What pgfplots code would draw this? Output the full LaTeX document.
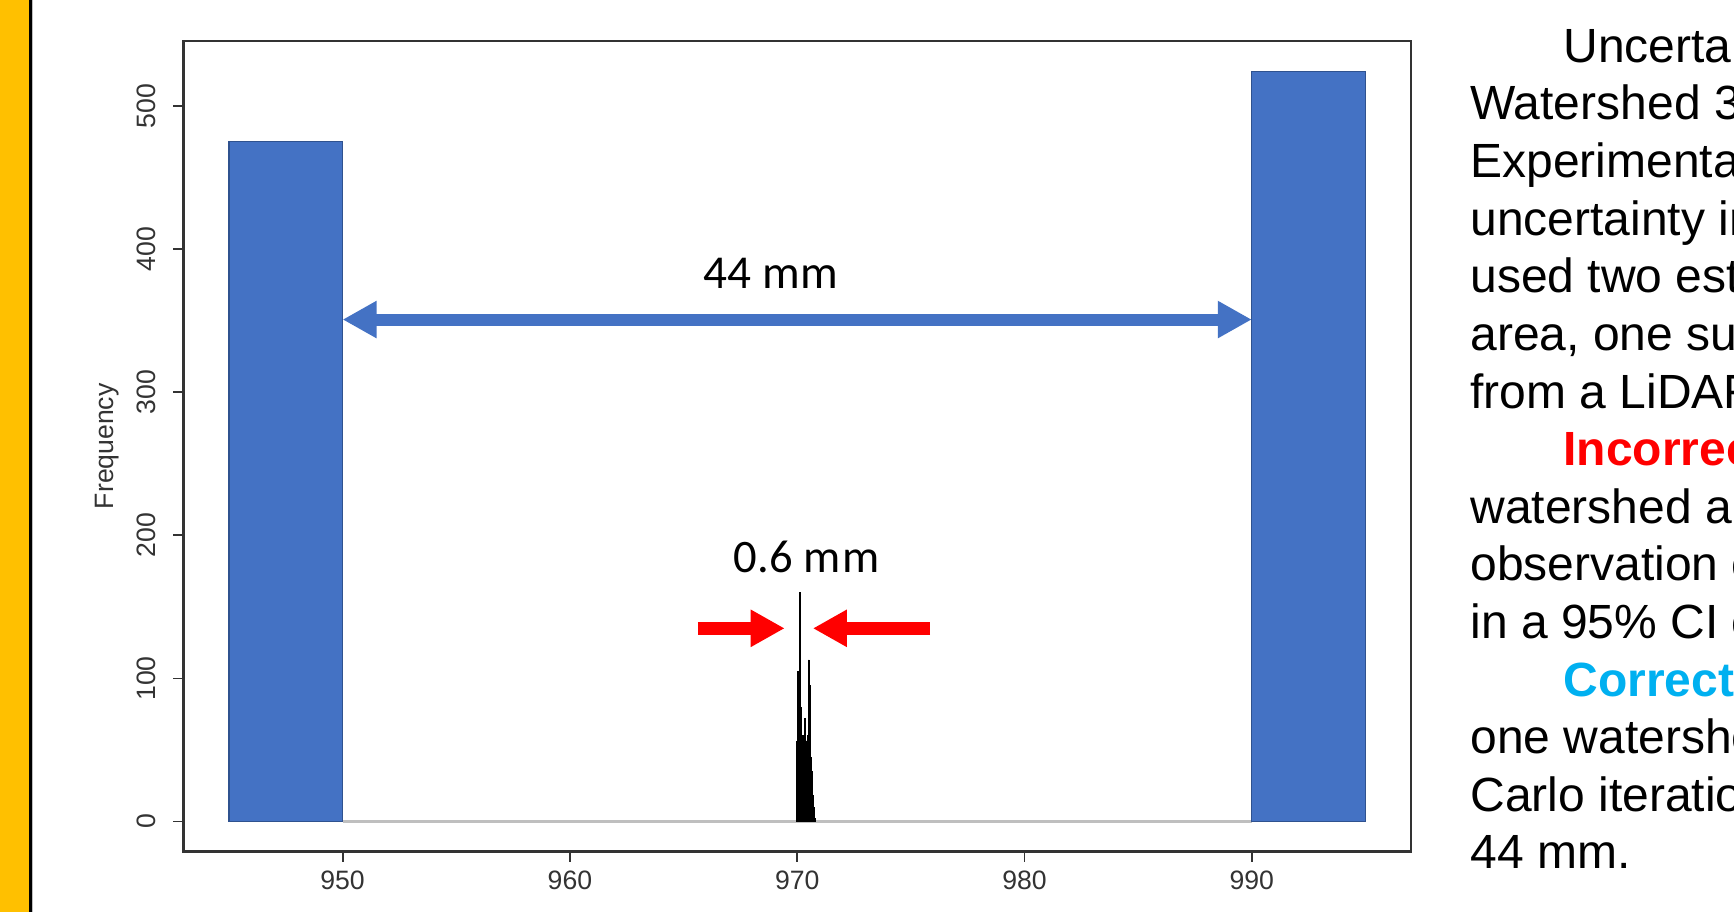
\documentclass[border=0pt]{standalone}
\usepackage{fontspec}
\setmainfont{Liberation Sans}
\newfontfamily\calibri{Carlito}
\usepackage{pgfplots}
\pgfplotsset{compat=1.18}
\usetikzlibrary{arrows.meta}
\definecolor{officeblue}{HTML}{4472C4}
\definecolor{blueedge}{HTML}{2F528F}
\definecolor{slideyellow}{HTML}{FFC000}
\definecolor{rgray}{HTML}{333333}
\definecolor{cyantext}{HTML}{00B0F0}
\begin{document}
\begin{tikzpicture}
\useasboundingbox (0,0) rectangle (867pt,456pt);
\clip (0,0) rectangle (867pt,456pt);
\fill[white] (0,0) rectangle (867pt,456pt);
\fill[slideyellow] (0,0) rectangle (14.5pt,456pt);
\fill[black] (14.5pt,0) rectangle (16pt,456pt);
\fill[gray!50] (16pt,0) rectangle (16.6pt,456pt);

\begin{axis}[
  at={(91.75pt,30.25pt)}, anchor=south west,
  scale only axis, width=613.7pt, height=405.25pt,
  xmin=943, xmax=997, ymin=-20.98, ymax=545.48,
  axis line style={rgray, line width=1.3pt},
  xtick={950,960,970,980,990}, ytick={0,100,200,300,400,500},
  xtick pos=bottom, ytick pos=left,
  tick align=outside, major tick length=5pt,
  every tick/.style={rgray, line width=0.9pt},
  ticklabel style={font=\fontsize{13.3}{15}\selectfont, text=rgray},
  /pgf/number format/assume math mode=true,
  /pgf/number format/1000 sep={},
  xticklabel style={anchor=north, inner sep=4.6pt},
  yticklabel style={rotate=90, anchor=south, inner sep=8.6pt},
  ylabel={Frequency},
  ylabel style={at={(axis description cs:-0.0626,0.5)}, anchor=center, font=\fontsize{13.3}{15}\selectfont, text=rgray},
  clip=false,
]
\addplot[gray!50, line width=1.3pt] coordinates {(950,0) (990,0)};
\addplot[ybar interval, fill=officeblue, draw=blueedge, line width=0.6pt] coordinates {(945,475) (950,475)};
\addplot[ybar interval, fill=officeblue, draw=blueedge, line width=0.6pt] coordinates {(990,524) (995,524)};
\addplot[ybar interval, fill=black, draw=black, line width=0.25pt] coordinates {
(969.95,40) (969.98,56) (970.01,105) (970.04,70) (970.07,60) (970.10,160)
(970.13,75) (970.16,80) (970.19,60) (970.22,58) (970.25,55) (970.28,60)
(970.31,72) (970.34,58) (970.37,56) (970.40,55) (970.43,57) (970.46,60)
(970.49,113) (970.52,50) (970.55,95) (970.58,45) (970.61,35) (970.64,25)
(970.67,18) (970.70,10) (970.73,5) (970.76,2) (970.79,0)};

\draw[officeblue, line width=6pt, {Triangle[length=17pt,width=17.5pt]}-{Triangle[length=17pt,width=17.5pt]}] (axis cs:950,350.8) -- (axis cs:990,350.8);
\draw[red, line width=6.5pt, -{Triangle[length=17pt,width=17.5pt]}] (axis cs:965.63,135) -- (axis cs:969.45,135);
\draw[red, line width=6.5pt, -{Triangle[length=17pt,width=17.5pt]}] (axis cs:975.85,135) -- (axis cs:970.69,135);
\node[font=\calibri\fontsize{23.6}{27}\selectfont] at (axis cs:968.84,383.3) {44 mm};
\node[font=\calibri\fontsize{23.3}{27}\selectfont] at (axis cs:970.43,185) {0.6 m\kern1pt m};
\end{axis}

\begin{scope}[every node/.style={anchor=base west, inner sep=0pt, font=\fontsize{24}{28.8}\selectfont}]
\node at (781.5pt,424.8pt) {Uncertainty in runoff for};
\node at (735pt,396.0pt) {Watershed 3 of the Hubbard Brook};
\node at (735pt,367.2pt) {Experimental Forest: To test};
\node at (735pt,338.4pt) {uncertainty in watershed area, we};
\node at (735pt,309.6pt) {used two estimates of watershed};
\node at (735pt,280.8pt) {area, one surveyed and one};
\node at (735pt,252.0pt) {from a LiDAR DEM.};
\node[text=red] at (781.5pt,223.2pt) {\bfseries Incorrect:};
\node at (735pt,194.4pt) {watershed area as a single};
\node at (735pt,165.6pt) {observation of uncertainty results};
\node at (735pt,136.8pt) {in a 95\% CI of 0.6 mm.};
\node[text=cyantext] at (781.5pt,108.0pt) {\bfseries Correct:};
\node at (735pt,79.2pt) {one watershed area for each Monte};
\node at (735pt,50.4pt) {Carlo iteration results in a CI of};
\node at (735pt,21.6pt) {44 mm.};
\end{scope}
\end{tikzpicture}
\end{document}
